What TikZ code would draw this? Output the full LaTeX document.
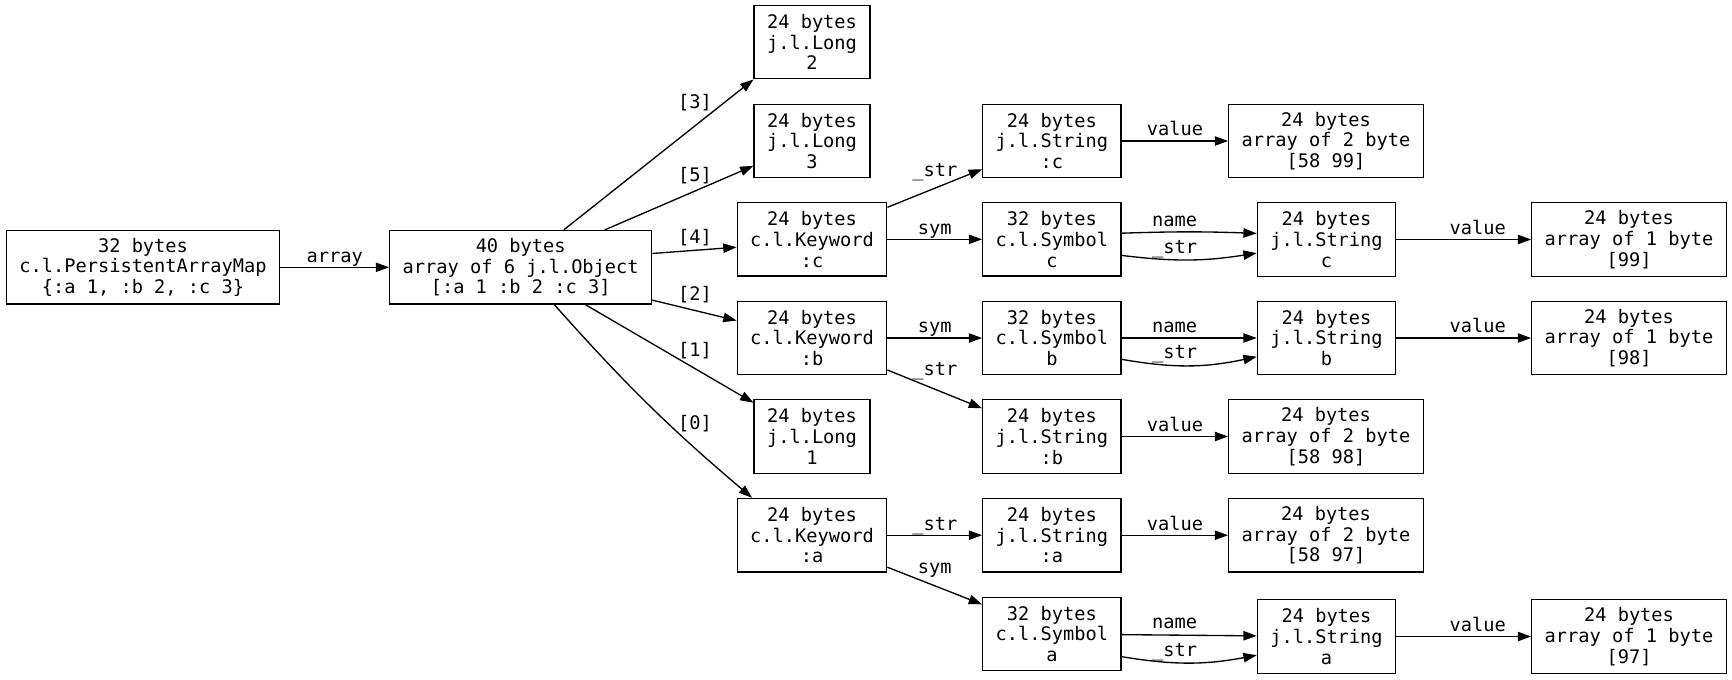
\documentclass[tikz,border=0pt]{standalone}
\usepackage{fontspec}
\setmonofont{DejaVu Sans Mono}
\usetikzlibrary{arrows.meta}
\begin{document}
\begin{tikzpicture}[font=\ttfamily\fontsize{14}{15.6}\selectfont,x=.75pt,y=-.75pt,
 obj/.style={draw,line width=1pt,align=center,inner xsep=9.7pt,inner ysep=0pt,minimum height=55.2pt},
 ref/.style={line width=1pt,-{Triangle[length=10pt,width=7pt]}},
 lbl/.style={anchor=base,inner sep=0pt,yshift=#1},lbl/.default=3.8pt]
\useasboundingbox (0,0) rectangle (1732,679);
\node[obj] (map) at (143,267.3) {32 bytes\\c.l.PersistentArrayMap\\\{:a 1, :b 2, :c 3\}};
\node[obj] (arr) at (520.7,267.3) {40 bytes\\array of 6 j.l.Object\\{}[:a 1 :b 2 :c 3]};
\node[obj] (long2) at (812,42) {24 bytes\\j.l.Long\\2};
\node[obj] (long3) at (812,141) {24 bytes\\j.l.Long\\3};
\node[obj] (kwc) at (812,239.3) {24 bytes\\c.l.Keyword\\:c};
\node[obj] (kwb) at (812,338) {24 bytes\\c.l.Keyword\\:b};
\node[obj] (long1) at (812,436.5) {24 bytes\\j.l.Long\\1};
\node[obj] (kwa) at (812,535.2) {24 bytes\\c.l.Keyword\\:a};
\node[obj] (kstrc) at (1051.9,141) {24 bytes\\j.l.String\\:c};
\node[obj] (symc) at (1051.9,239.3) {32 bytes\\c.l.Symbol\\c};
\node[obj] (symb) at (1051.9,338) {32 bytes\\c.l.Symbol\\b};
\node[obj] (kstrb) at (1051.9,436.5) {24 bytes\\j.l.String\\:b};
\node[obj] (kstra) at (1051.9,535.2) {24 bytes\\j.l.String\\:a};
\node[obj] (syma) at (1051.9,634) {32 bytes\\c.l.Symbol\\a};
\node[obj] (kbytc) at (1326,141) {24 bytes\\array of 2 byte\\{}[58 99]};
\node[obj] (strc) at (1326.5,239.5) {24 bytes\\j.l.String\\c};
\node[obj] (strb) at (1326.5,338) {24 bytes\\j.l.String\\b};
\node[obj] (kbytb) at (1326,436.5) {24 bytes\\array of 2 byte\\{}[58 98]};
\node[obj] (kbyta) at (1326,535.2) {24 bytes\\array of 2 byte\\{}[58 97]};
\node[obj] (stra) at (1326.5,636.5) {24 bytes\\j.l.String\\a};
\node[obj] (bytc) at (1629,239.5) {24 bytes\\array of 1 byte\\{}[99]};
\node[obj] (bytb) at (1629,338) {24 bytes\\array of 1 byte\\{}[98]};
\node[obj] (byta) at (1629,636.5) {24 bytes\\array of 1 byte\\{}[97]};
\draw[ref] (map) -- node[lbl]{array} (arr);
\draw[ref] (arr.41) -- (long2.south west);
\draw[ref] (arr.24) -- (long3.203);
\draw[ref] (arr.6) -- (kwc.186);
\draw[ref] (arr.346) -- (kwb.167);
\draw[ref] (arr.330) -- (long1.150);
\draw[ref] (arr.312) to[bend right=4] (kwa.148);
\foreach \i/\y in {3/103,5/176,4/238,2/295,1/351,0/424}{
 \node (idx\i) at (695,\y) {[\i]};
}
\draw[ref] (kwc.23) -- node[lbl=8.6pt]{\_str} (kstrc.202);
\draw[ref] (kwc) -- node[lbl]{sym} (symc);
\draw[ref] (kwb) -- node[lbl]{sym} (symb);
\draw[ref] (kwb.337) -- node[lbl=10.1pt]{\_str} (kstrb.158);
\draw[ref] (kwa) -- node[lbl]{\_str} (kstra);
\draw[ref] (kwa.337) -- node[lbl=9.6pt]{sym} (syma.157);
\draw[ref] (kstrc) -- node[lbl]{value} (kbytc);
\draw[ref] (kstrb) -- node[lbl]{value} (kbytb);
\draw[ref] (kstra) -- node[lbl]{value} (kbyta);
\draw[ref] (symc.5) to[bend left=2] node[lbl=4.2pt,xshift=-11pt]{name} (strc.175);
\draw[ref] (symc.347) to[bend right=8] node[lbl=4.5pt,xshift=-11pt]{\_str} (strc.191);
\draw[ref] (symb) -- node[lbl=4.2pt,xshift=-11pt]{name} (strb);
\draw[ref] (symb.343) to[bend right=11] node[lbl=5.5pt,xshift=-11pt]{\_str} (strb.195);
\draw[ref] (syma) -- node[lbl=4.8pt,xshift=-11pt]{name} (stra);
\draw[ref] (syma.342) to[bend right=10] node[lbl=5pt,xshift=-11pt]{\_str} (stra.195);
\draw[ref] (strc) -- node[lbl,xshift=10.5pt]{value} (bytc);
\draw[ref] (strb) -- node[lbl,xshift=10.5pt]{value} (bytb);
\draw[ref] (stra) -- node[lbl,xshift=10.5pt]{value} (byta);
\end{tikzpicture}
\end{document}
